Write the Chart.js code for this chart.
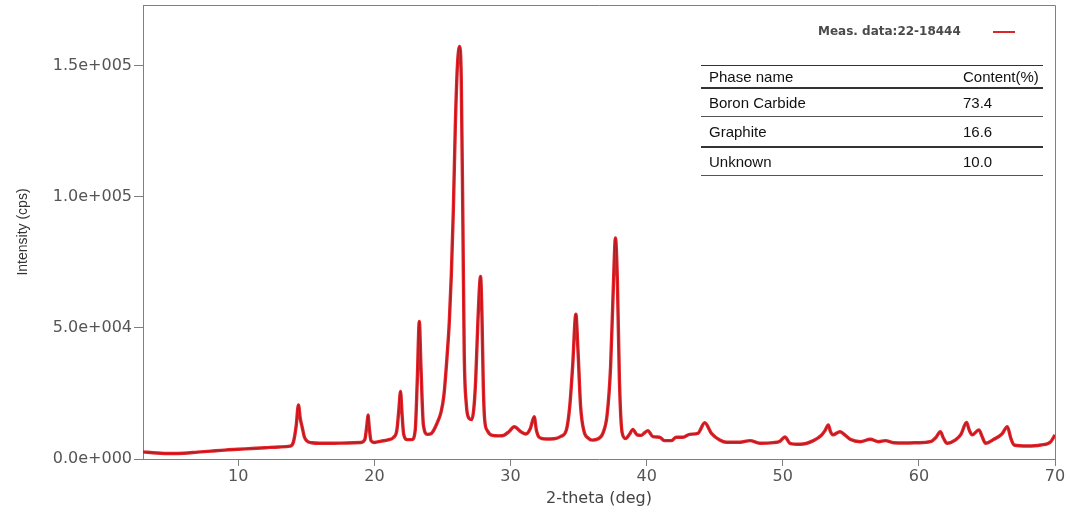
<!DOCTYPE html>
<html>
<head>
<meta charset="utf-8" />
<title>XRD pattern</title>
<script src="https://cdn.jsdelivr.net/npm/chart.js"></script>
<style>
  body, html { margin: 0; padding: 0; background: #fff; }
  #wrap { position: relative; width: 1074px; height: 515px; }
  canvas { position: absolute; left: 0; top: 0; }
  .legend { position: absolute; left: 818px; top: 24px; font: bold 12px "DejaVu Sans", sans-serif; color: #4a4a4a; white-space: nowrap; }
  .legline { position: absolute; left: 993px; top: 31px; width: 22px; height: 2px; background: #d8262b; }
  .tline { position: absolute; left: 701px; width: 342px; height: 0; }
  .tcell { position: absolute; font: 15px "Liberation Sans", Arial, sans-serif; color: #111; white-space: nowrap; line-height: 18px; }
</style>
</head>
<body>
<div id="wrap">
  <canvas id="xrd" width="1074" height="515"></canvas>
  <div class="legend">Meas. data:22-18444</div>
  <div class="legline"></div>
  <div id="table"></div>
</div>
<script>
// 2-theta (deg) and intensity (cps)
const twoTheta = [
  3.0, 4.0, 5.0, 6.0, 7.0, 8.0, 9.0, 10.0, 11.0, 12.0, 13.0, 13.8,
  14.05, 14.25, 14.42, 14.55, 14.7, 14.85, 15.05, 15.4, 16.0, 17.0, 18.0, 19.0,
  19.3, 19.45, 19.53, 19.62, 19.75, 20.0, 20.5, 21.0, 21.4, 21.65, 21.8, 21.92,
  22.02, 22.15, 22.4, 22.75, 23.0, 23.15, 23.3, 23.42, 23.6, 23.9, 24.2, 24.6,
  24.9, 25.1, 25.35, 25.5, 25.65, 25.8, 25.95, 26.1, 26.26, 26.38, 26.5, 26.6,
  26.75, 26.95, 27.15, 27.3, 27.44, 27.6, 27.8, 27.9, 28.0, 28.1, 28.3, 28.67,
  29.16, 29.5, 29.9, 30.27, 30.76, 31.13, 31.45, 31.74, 31.9, 32.1, 32.6, 33.2,
  33.7, 34.1, 34.35, 34.56, 34.8, 34.95, 35.15, 35.4, 35.7, 36.0, 36.4, 36.8,
  37.1, 37.35, 37.55, 37.71, 37.85, 38.0, 38.2, 38.45, 38.75, 38.98, 39.3, 39.6,
  39.85, 40.09, 40.46, 40.95, 41.32, 41.8, 42.18, 42.67, 43.16, 43.77, 44.27, 44.76,
  45.37, 45.87, 46.85, 47.59, 48.32, 49.3, 49.8, 50.16, 50.53, 51.27, 52.25, 52.86,
  53.1, 53.35, 53.5, 53.67, 54.21, 54.6, 54.95, 55.69, 56.43, 57.04, 57.53, 58.14,
  59.0, 59.86, 60.84, 61.25, 61.58, 61.8, 62.07, 62.69, 63.1, 63.5, 63.7, 63.92,
  64.41, 64.65, 64.9, 65.51, 66.1, 66.5, 66.75, 66.99, 67.97, 68.95, 69.69, 70.0
];
const intensity = [
  2700, 2300, 2100, 2200, 2600, 3000, 3400, 3700, 4000, 4300, 4600, 4900,
  6500, 12500, 20600, 15500, 12000, 8500, 6800, 6200, 6000, 6000, 6100, 6300,
  7500, 13000, 16800, 12000, 7000, 6300, 6800, 7300, 8200, 11000, 19000, 25700,
  18000, 9500, 7400, 7400, 11000, 30000, 52400, 35000, 13000, 9400, 9800, 13600,
  18000, 24000, 40000, 52000, 70000, 95000, 128000, 150000, 157200, 145000, 90000, 40000,
  21000, 15500, 15000, 19000, 30000, 52000, 69600, 55000, 28000, 15000, 10800, 9000,
  8800, 9000, 10500, 12300, 10400, 9500, 11500, 16100, 11000, 8300, 7600, 7700,
  8600, 11000, 20000, 35000, 55200, 42000, 20000, 10500, 8000, 7200, 7600, 10000,
  17000, 35000, 65000, 84200, 68000, 30000, 10000, 7800, 9500, 11300, 9200, 9000,
  10000, 10800, 8500, 8300, 7000, 7000, 8300, 8300, 9400, 9800, 13800, 9800,
  7250, 6360, 6360, 7000, 6000, 6230, 6800, 8400, 6000, 5600, 7000, 9160,
  10800, 13000, 10500, 9200, 10400, 9000, 7500, 6600, 7500, 6600, 7000, 6200,
  6100, 6200, 6600, 8200, 10400, 8000, 6000, 7250, 9500, 13900, 11000, 9200,
  11100, 8500, 6000, 7500, 9500, 12300, 8000, 5340, 4960, 5340, 6600, 9160
];

const xTickValues = [10, 20, 30, 40, 50, 60, 70];
const yTickValues = [0, 50000, 100000, 150000];
const yTickLabels = ['0.0e+000', '5.0e+004', '1.0e+005', '1.5e+005'];

const phaseNames = ['Boron Carbide', 'Graphite', 'Unknown'];
const phaseContent = ['73.4', '16.6', '10.0'];

// phase table drawn as html on top of the canvas
const table = document.getElementById('table');
const rowTops = [66, 88, 117, 147];
const rowBottoms = [88, 117, 147, 176];
const lineStyles = ['1px solid #333', '2px solid #333', '1.5px solid #555', '2px solid #333', '1.5px solid #555'];
const lineYs = [66, 88, 117, 147, 176];
lineYs.forEach((y, i) => {
  const d = document.createElement('div');
  d.className = 'tline';
  d.style.top = (y - 1) + 'px';
  d.style.borderTop = lineStyles[i];
  table.appendChild(d);
});
const rows = [['Phase name', 'Content(%)']].concat(phaseNames.map((n, i) => [n, phaseContent[i]]));
rows.forEach((r, i) => {
  const mid = (rowTops[i] + rowBottoms[i]) / 2;
  [709, 963].forEach((x, j) => {
    const c = document.createElement('div');
    c.className = 'tcell';
    c.style.left = x + 'px';
    c.style.top = (mid - 9) + 'px';
    c.textContent = r[j];
    table.appendChild(c);
  });
});

const points = twoTheta.map((x, i) => ({ x: x, y: intensity[i] }));

const frame = {
  id: 'frame',
  afterDraw(chart) {
    const { ctx, chartArea: a } = chart;
    ctx.save();
    ctx.strokeStyle = '#7f7f7f';
    ctx.lineWidth = 1;
    ctx.beginPath();
    ctx.moveTo(a.left, a.top + 0.5);
    ctx.lineTo(a.right + 0.5, a.top + 0.5);
    ctx.lineTo(a.right + 0.5, a.bottom);
    ctx.stroke();
    ctx.restore();
  }
};

const tickFont = { family: '"DejaVu Sans", sans-serif', size: 16 };

new Chart(document.getElementById('xrd'), {
  type: 'line',
  data: {
    datasets: [
      {
        // dark core of the trace
        data: points,
        borderColor: '#a61c20',
        borderWidth: 1,
        pointRadius: 0,
        cubicInterpolationMode: 'monotone',
        fill: false
      },
      {
        data: points,
        borderColor: '#e5232a',
        borderWidth: 3.4,
        pointRadius: 0,
        cubicInterpolationMode: 'monotone',
        fill: false
      }
    ]
  },
  options: {
    responsive: false,
    animation: false,
    devicePixelRatio: 1,
    layout: { padding: { top: 5, right: 19, left: 0, bottom: 0 } },
    plugins: { legend: { display: false }, tooltip: { enabled: false } },
    scales: {
      x: {
        type: 'linear',
        min: 3,
        max: 70,
        afterBuildTicks: s => { s.ticks = xTickValues.map(v => ({ value: v })); },
        afterFit: s => { s.height = 56; s.paddingLeft = 0; s.paddingRight = 0; },
        grid: { drawOnChartArea: false, drawTicks: true, tickLength: 7, color: '#7f7f7f' },
        border: { color: '#7f7f7f', width: 1 },
        ticks: { color: '#555', font: tickFont, padding: 1, maxRotation: 0 },
        title: {
          display: true,
          text: '2-theta (deg)',
          color: '#444',
          font: { family: '"DejaVu Sans", sans-serif', size: 16 },
          padding: { top: 0, bottom: 7 }
        }
      },
      y: {
        min: 0,
        max: 173000,
        afterBuildTicks: s => { s.ticks = yTickValues.map(v => ({ value: v })); },
        afterFit: s => { s.width = 143; s.paddingTop = 0; s.paddingBottom = 0; },
        grid: { drawOnChartArea: false, drawTicks: true, tickLength: 9, color: '#7f7f7f' },
        border: { color: '#7f7f7f', width: 1 },
        ticks: {
          color: '#555',
          font: tickFont,
          padding: 2,
          callback: (v, i) => yTickLabels[i]
        },
        title: {
          display: true,
          text: 'Intensity (cps)',
          color: '#333',
          font: { family: '"Liberation Sans", Arial, sans-serif', size: 14 },
          padding: { top: 15, bottom: 0 }
        }
      }
    }
  },
  plugins: [frame]
});
</script>
</body>
</html>
